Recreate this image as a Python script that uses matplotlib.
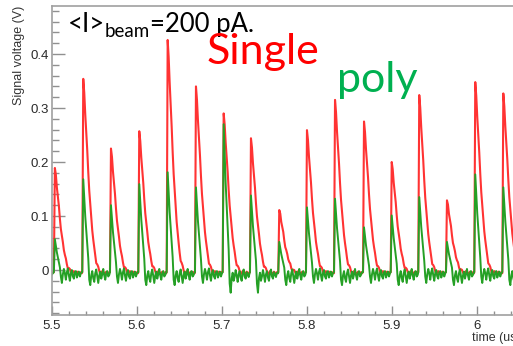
import numpy as np
import matplotlib.pyplot as plt
from matplotlib.ticker import MultipleLocator, FormatStrFormatter

# pulse start times (us) and peak heights (V)
pulse_t = [5.5022, 5.5356, 5.5682, 5.6015, 5.6349, 5.6682, 5.7008, 5.7329, 5.7662,
           5.7988, 5.8318, 5.8659, 5.8985, 5.9309, 5.9635, 5.9968, 6.0298]
single_peak = [0.195, 0.360, 0.231, 0.263, 0.432, 0.346, 0.296, 0.250, 0.117,
               0.265, 0.321, 0.281, 0.206, 0.330, 0.135, 0.354, 0.333]
poly_peak = [0.061, 0.172, 0.124, 0.163, 0.185, 0.157, 0.274, 0.142, 0.056,
             0.120, 0.136, 0.083, 0.105, 0.139, 0.056, 0.181, 0.157]

# pulse shapes, one sample per screen pixel
red_shape = [0.0, 1.0, 0.92, 0.82, 0.72, 0.62, 0.52, 0.43, 0.35, 0.28, 0.22, 0.17,
             0.12, 0.09, 0.06, 0.04, 0.025, 0.012, 0.0]
red_base = [-0.004, -0.006, -0.003, -0.007, -0.005, -0.002, -0.006, -0.008, -0.004,
            -0.003, -0.006, -0.005, -0.002, -0.007, -0.009, -0.004, -0.003, -0.006,
            -0.008, -0.005, -0.002, -0.004, -0.007, -0.006, -0.003, -0.005, -0.008,
            -0.004, -0.006, -0.005, -0.004]
green_head = [0.0, 1.0, 0.8, 0.6, 0.45, 0.3, 0.15]
ring_a = [-0.012, -0.024, -0.008, 0.002, -0.006, -0.018, -0.004, 0.003, -0.010, -0.020,
          -0.006, 0.000, -0.012, -0.016, -0.004, -0.002, -0.014, -0.008, -0.003, -0.012,
          -0.006, -0.004, -0.010, -0.007, -0.003, -0.009]
ring_b = [-0.018, -0.028, -0.010, -0.002, -0.015, -0.022, -0.006, 0.001, -0.012, -0.024,
          -0.010, -0.003, -0.016, -0.008, 0.002, -0.010, -0.018, -0.006, -0.002, -0.012,
          -0.009, -0.004, -0.008, -0.011, -0.005, -0.007]
ring_c = [-0.025, -0.042, -0.015, -0.005, -0.020, -0.012, 0.000, -0.010, -0.022, -0.008,
          -0.002, -0.014, -0.020, -0.006, 0.001, -0.012, -0.016, -0.004, -0.008, -0.013,
          -0.005, -0.006, -0.010, -0.004, -0.008, -0.006]
ring_pick = [0, 1, 0, 1, 1, 0, 2, 2, 1, 0, 1, 0, 1, 0, 1, 0, 1]

DT = 0.1 / 85   # one pixel in us
T_END = 6.046


def build_traces():
    rings = [ring_a, ring_b, ring_c]
    tr, vr, vg = [5.5, 5.501], [-0.005, -0.005], [-0.008, -0.006]
    for i, t0 in enumerate(pulse_t):
        t_next = pulse_t[i + 1] if i + 1 < len(pulse_t) else T_END
        k = 0
        while t0 + k * DT < t_next and k < len(red_base):
            s = red_shape[k] if k < len(red_shape) else 0.0
            tr.append(t0 + k * DT)
            vr.append(red_base[k] + single_peak[i] * s)
            if k < len(green_head):
                vg.append(poly_peak[i] * green_head[k] - 0.004)
            else:
                ring = rings[ring_pick[i]]
                vg.append(ring[min(k - len(green_head), len(ring) - 1)])
            k += 1
    return np.array(tr), np.array(vr), np.array(vg)


t, red, green = build_traces()

plt.rcParams['font.family'] = ['Liberation Sans', 'DejaVu Sans']

W, H = 513, 346
fig = plt.figure(figsize=(W / 100, H / 100), dpi=100)
ax = fig.add_axes([52 / W, 31 / H, 464 / W, 309 / H])

ax.plot(t, red, color='#ff3333', lw=1.5)
ax.plot(t, green, color='#25a025', lw=1.4)

ax.set_xlim(5.5, 6.0459)
ax.set_ylim(-0.0833, 0.4889)

ax.xaxis.set_major_locator(MultipleLocator(0.1))
ax.xaxis.set_minor_locator(MultipleLocator(0.02))
ax.yaxis.set_major_locator(MultipleLocator(0.1))
ax.yaxis.set_minor_locator(MultipleLocator(0.02))
ax.xaxis.set_major_formatter(FormatStrFormatter('%g'))
ax.yaxis.set_major_formatter(FormatStrFormatter('%g'))

for s in ax.spines.values():
    s.set_color('#a0a0a0')
    s.set_linewidth(1.2)

ax.tick_params(axis='both', which='both', direction='in', color='#909090',
               labelcolor='#2a2a2a', labelsize=9.5, width=1.0)
ax.tick_params(axis='y', which='major', length=9.5, pad=2.5)
ax.tick_params(axis='y', which='minor', length=5)
ax.tick_params(axis='x', which='major', length=6.5, pad=3.5)
ax.tick_params(axis='x', which='minor', length=3.2)
ax.tick_params(top=False, right=False)

ax.set_ylabel('Signal voltage (V)', fontsize=9, color='#333333', loc='top')
ax.yaxis.label.set_va('center')
ax.yaxis.set_label_coords((19 - 52) / 464, 1.0)
ax.set_xlabel('time (us)', fontsize=9, color='#333333', ha='left')
ax.xaxis.set_label_coords((472 - 52) / 464, -(338 - 315) / 309)
ax.xaxis.label.set_va('center')

# annotations
r = fig.canvas.get_renderer()
t1 = fig.text(68 / W, 1 - 32 / H, '<I>', fontsize=18.5, family='Lato', va='baseline')
bb = t1.get_window_extent(r)
t2 = fig.text(bb.x1 / W, 1 - 37 / H, 'beam', fontsize=13.5, family='Lato', va='baseline')
bb = t2.get_window_extent(r)
fig.text(bb.x1 / W, 1 - 32 / H, '=200 pA.', fontsize=18.5, family='Lato', va='baseline')

fig.text(207 / W, 1 - 64 / H, 'Single', fontsize=31, family='Lato', color='#ff0000',
         va='baseline')
fig.text(337 / W, 1 - 92 / H, 'poly', fontsize=31, family='Lato', color='#00b050',
         va='baseline')

fig.savefig('out.png', dpi=100)
